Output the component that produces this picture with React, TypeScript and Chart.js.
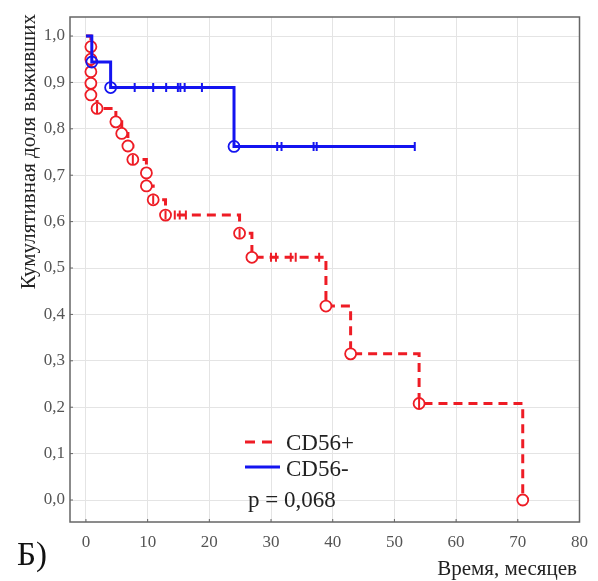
import React, { useEffect, useRef } from 'react';
import { Chart, registerables } from 'chart.js';

Chart.register(...registerables);

// ---- data ----
const xTicks = [0, 10, 20, 30, 40, 50, 60, 70, 80];
const yTicks = [0, 0.1, 0.2, 0.3, 0.4, 0.5, 0.6, 0.7, 0.8, 0.9, 1.0];
const yTickLabels = ['0,0', '0,1', '0,2', '0,3', '0,4', '0,5', '0,6', '0,7', '0,8', '0,9', '1,0'];

const seriesNames = ['CD56+', 'CD56-'];
const pValueText = 'p = 0,068';
const panelLabel = 'Б)';
const xTitle = 'Время, месяцев';
const yTitle = 'Кумулятивная доля выживших';

// CD56+ (red): event times and survival after each event (first = start)
const redTimes = [0, 0.8, 0.8, 0.8, 0.8, 0.8, 1.8, 4.85, 5.8, 6.8, 7.6, 9.8, 9.8, 10.9, 12.9, 24.9, 26.9, 38.9, 42.9, 54.0, 70.8];
const redSurv = [1.0, 0.977, 0.95, 0.923, 0.898, 0.873, 0.844, 0.815, 0.79, 0.763, 0.734, 0.705, 0.677, 0.647, 0.614, 0.575, 0.523, 0.418, 0.315, 0.208, 0.0];
const redCensTimes = [1.8, 7.6, 10.9, 12.9, 14.4, 15.2, 16.2, 24.9, 30.0, 30.8, 33.2, 34.0, 37.8, 54.0];
const redCensSurv = [0.844, 0.734, 0.647, 0.614, 0.614, 0.614, 0.614, 0.575, 0.523, 0.523, 0.523, 0.523, 0.523, 0.208];

// CD56- (blue)
const blueTimes = [0, 0.95, 4.0, 24.0];
const blueSurv = [1.0, 0.944, 0.889, 0.762];
const blueEndTime = 53.3;
const blueCensTimes = [7.9, 10.9, 13.0, 14.9, 15.3, 16.0, 18.8, 31.0, 31.7, 36.9, 37.4, 53.3];
const blueCensSurv = [0.889, 0.889, 0.889, 0.889, 0.889, 0.889, 0.889, 0.762, 0.762, 0.762, 0.762, 0.762];

const RED = '#ee1c25';
const BLUE = '#1414f0';
const SERIF = '"Liberation Serif", "Times New Roman", serif';

const pts = (xs: number[], ys: number[]) => xs.map((x, i) => ({ x, y: ys[i] }));

export default function App() {
  const ref = useRef<HTMLCanvasElement | null>(null);

  useEffect(() => {
    if (!ref.current) return;

    const redLine = pts(redTimes, redSurv);
    const blueLine = [...pts(blueTimes, blueSurv), { x: blueEndTime, y: blueSurv[blueSurv.length - 1] }];

    const decorPlugin = {
      id: 'decor',
      beforeDatasetsDraw(chart: any) {
        const { ctx, chartArea: a } = chart;
        const xs = chart.scales.x;
        const ys = chart.scales.y;
        ctx.save();
        ctx.strokeStyle = '#666';
        ctx.lineWidth = 1.5;
        ctx.strokeRect(a.left, a.top, a.right - a.left, a.bottom - a.top);
        ctx.lineWidth = 1;
        ctx.beginPath();
        xTicks.forEach((v) => {
          const px = xs.getPixelForValue(v);
          ctx.moveTo(px, a.bottom);
          ctx.lineTo(px, a.bottom - 3);
        });
        yTicks.forEach((v) => {
          const py = ys.getPixelForValue(v);
          ctx.moveTo(a.left, py);
          ctx.lineTo(a.left + 3, py);
        });
        ctx.stroke();
        ctx.restore();
      },
      afterDraw(chart: any) {
        const { ctx } = chart;
        ctx.save();
        // legend
        ctx.lineWidth = 3;
        ctx.strokeStyle = RED;
        ctx.setLineDash([10, 7]);
        ctx.beginPath();
        ctx.moveTo(245, 442);
        ctx.lineTo(273, 442);
        ctx.stroke();
        ctx.setLineDash([]);
        ctx.strokeStyle = BLUE;
        ctx.beginPath();
        ctx.moveTo(245, 467);
        ctx.lineTo(280, 467);
        ctx.stroke();
        ctx.fillStyle = '#222';
        ctx.font = `23px ${SERIF}`;
        ctx.textBaseline = 'alphabetic';
        ctx.textAlign = 'left';
        ctx.fillText(seriesNames[0], 286, 450);
        ctx.fillText(seriesNames[1], 286, 476);
        ctx.fillText(pValueText, 248, 507);
        // panel label
        ctx.fillStyle = '#111';
        ctx.font = `33px ${SERIF}`;
        ctx.fillText(panelLabel, 17, 565);
        // x title
        ctx.fillStyle = '#222';
        ctx.font = `21px ${SERIF}`;
        ctx.textAlign = 'right';
        ctx.fillText(xTitle, 577, 575);
        // y title
        ctx.translate(35, 14);
        ctx.rotate(-Math.PI / 2);
        ctx.font = `21px ${SERIF}`;
        ctx.textAlign = 'right';
        ctx.fillText(yTitle, 0, 0);
        ctx.restore();
      },
    };

    const chart = new Chart(ref.current, {
      type: 'line',
      data: {
        datasets: [
          {
            data: pts(blueCensTimes, blueCensSurv),
            showLine: false,
            pointStyle: 'line',
            rotation: 90,
            pointRadius: 4.5,
            pointBorderWidth: 2,
            pointBorderColor: BLUE,
            borderColor: BLUE,
          },
          {
            data: pts(blueTimes.slice(1), blueSurv.slice(1)),
            showLine: false,
            pointStyle: 'circle',
            pointRadius: 5.5,
            pointBorderWidth: 1.8,
            pointBorderColor: BLUE,
            pointBackgroundColor: 'rgba(255,255,255,0)',
          },
          {
            data: blueLine,
            stepped: true,
            borderColor: BLUE,
            borderWidth: 3,
            pointRadius: 0,
            fill: false,
          },
          {
            data: pts(redCensTimes, redCensSurv),
            showLine: false,
            pointStyle: 'line',
            rotation: 90,
            pointRadius: 4.5,
            pointBorderWidth: 2,
            pointBorderColor: RED,
            borderColor: RED,
          },
          {
            data: pts(redTimes.slice(1), redSurv.slice(1)),
            showLine: false,
            pointStyle: 'circle',
            pointRadius: 5.5,
            pointBorderWidth: 1.8,
            pointBorderColor: RED,
            pointBackgroundColor: '#fff',
          },
          {
            data: redLine,
            stepped: true,
            borderColor: RED,
            borderWidth: 3,
            borderDash: [9, 6],
            pointRadius: 0,
            fill: false,
          },
        ],
      },
      plugins: [decorPlugin],
      options: {
        animation: false,
        responsive: true,
        maintainAspectRatio: false,
        parsing: false as any,
        layout: { padding: { top: 17, right: 17, bottom: 0, left: 0 } },
        plugins: { legend: { display: false }, tooltip: { enabled: false }, title: { display: false } },
        scales: {
          x: {
            type: 'linear',
            min: -2.585,
            max: 80,
            afterBuildTicks: (s: any) => {
              s.ticks = xTicks.map((v) => ({ value: v }));
            },
            afterFit: (s: any) => {
              s.height = 59;
            },
            ticks: {
              font: { family: SERIF, size: 17 },
              color: '#555',
              padding: 10,
              maxRotation: 0,
              autoSkip: false,
              callback: (v: any) => String(v),
            },
            grid: { color: '#e4e4e4', drawTicks: false, lineWidth: 1 },
            border: { display: false },
          },
          y: {
            type: 'linear',
            min: -0.0474,
            max: 1.041,
            afterBuildTicks: (s: any) => {
              s.ticks = yTicks.map((v) => ({ value: v }));
            },
            afterFit: (s: any) => {
              s.width = 70;
            },
            ticks: {
              font: { family: SERIF, size: 17 },
              color: '#555',
              padding: 5,
              autoSkip: false,
              callback: (_v: any, i: number) => yTickLabels[i],
            },
            grid: { color: '#e4e4e4', drawTicks: false, lineWidth: 1 },
            border: { display: false },
          },
        },
      },
    });

    return () => chart.destroy();
  }, []);

  return (
    <div style={{ position: 'absolute', left: 0, top: 0, width: 598, height: 581, background: '#fff' }}>
      <canvas ref={ref} />
    </div>
  );
}
